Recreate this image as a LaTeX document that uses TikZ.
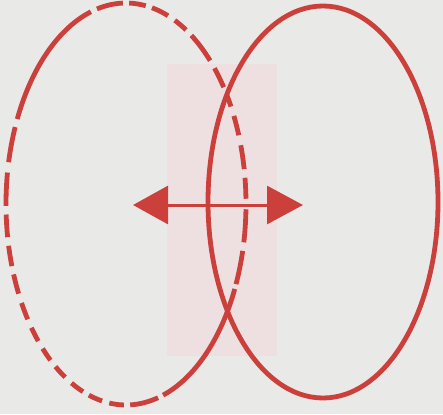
\documentclass[tikz,border=0pt]{standalone}
\usetikzlibrary{arrows.meta,calc}
\definecolor{bgc}{RGB}{233,233,232}
\definecolor{redc}{RGB}{204,64,60}
\definecolor{shadec}{RGB}{238,224,224}
\begin{document}
\begin{tikzpicture}[x=1pt,y=-1pt,
  loop/.style={draw=redc,line width=4.8pt},
  dashpart/.style={draw=redc,line width=4.8pt,line cap=butt},
  band/.style={fill=shadec}]
\fill[bgc] (0,0) rectangle (443,414);
\useasboundingbox (0,0) rectangle (443,414);
% shaded band
\fill[band] (167,64) rectangle (277,356);
% right ellipse
\coordinate (RC) at (323,202);
\draw[loop] (RC) ellipse [x radius=115, y radius=196];
% left ellipse (dashed, with solid lower-right part)
\coordinate (LC) at (126,204);
\foreach \s/\e in {-23.5/-13.5,-11/-1.5,1.5/7.5,10/17,20/26,29/33,35.5/42.5,45.5/57,
  60/66,69.5/77.5,80.5/88.5,91.5/104,107/155,157.5/168,171/180.5,183/189.5,192/198,
  200.5/206.5,209.5/215,218/223,226/231,234/239.5,243/249,252/258.5,262/269,272/285.5,288/335}
{
  \draw[dashpart] ($(LC)+(\s:120 and -201)$) arc [start angle=\s, end angle=\e, x radius=120, y radius=-201];
}
% double arrow
\coordinate (AL) at (133,205);
\coordinate (AR) at (303,205);
\draw[draw=redc,line width=3pt,
  {Triangle[length=35pt,width=38pt]}-{Triangle[length=36pt,width=38pt]}] (AL) -- (AR);
\end{tikzpicture}
\end{document}
